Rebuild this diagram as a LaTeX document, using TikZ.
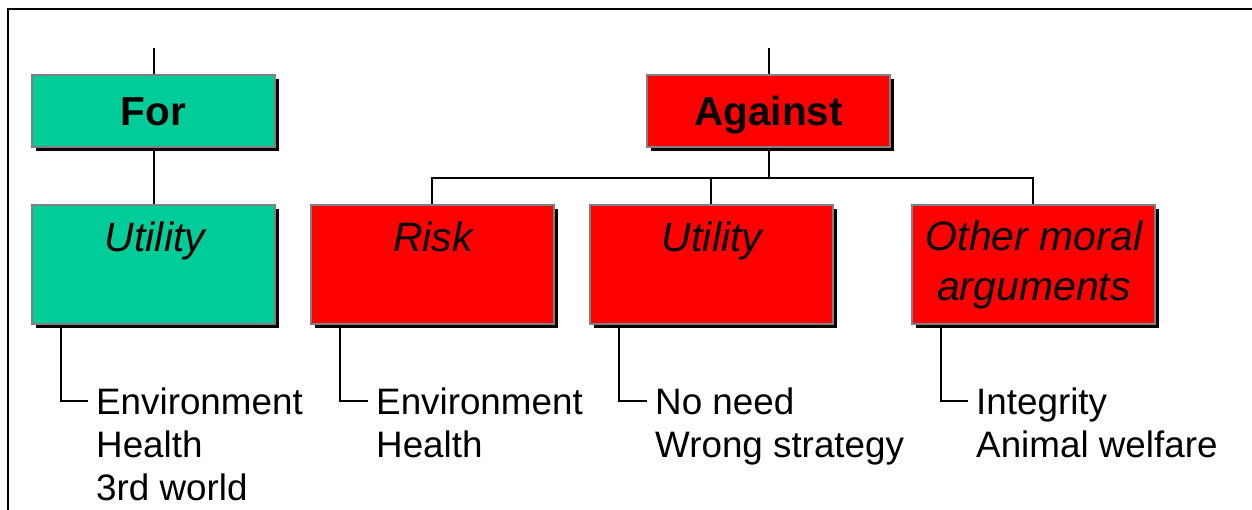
\documentclass[tikz,border=0pt]{standalone}
\usepackage{fontspec}
\setmainfont{Liberation Sans}
\usetikzlibrary{shadows,calc}
\definecolor{fgreen}{RGB}{0,204,153}
\definecolor{fred}{RGB}{255,0,0}
\definecolor{bgray}{RGB}{128,128,128}
\tikzset{
  box/.style={draw=bgray, line width=2pt, inner sep=0pt,
    drop shadow={shadow xshift=4pt, shadow yshift=-4pt, opacity=1, fill=black}},
  topbox/.style={box, minimum width=243pt, minimum height=72pt,
    text height=28pt, text depth=0pt,
    font=\fontsize{40.5}{45}\selectfont\bfseries},
  subbox/.style={box, minimum width=243pt, minimum height=119pt},
  boxlabel/.style={font=\fontsize{41}{50}\selectfont\itshape, align=center, inner sep=0pt},
  items/.style={font=\fontsize{36.8}{43}\selectfont, align=left, inner sep=0pt, anchor=base west},
  conn/.style={line width=2pt, black},
}
\begin{document}
\begin{tikzpicture}[x=1pt,y=-1pt]
\useasboundingbox (0,0) rectangle (1252,509);
\draw[line width=2pt] (8,515) |- (1260,9);

% top boxes
\node[topbox, fill=fgreen] (for) at (153.5,111) {For};
\node[topbox, fill=fred] (against) at (768.5,111) {Against};

% sub boxes
\node[subbox, fill=fgreen] (fu) at (153.5,264) {};
\node[subbox, fill=fred] (risk) at (432,264) {};
\node[subbox, fill=fred] (au) at (711,264) {};
\node[subbox, fill=fred] (oth) at (1033,264) {};

% box titles (anchor base = baseline of last line)
\node[boxlabel, anchor=base] (fut) at (155,251) {Utility};
\node[boxlabel, anchor=base] (rkt) at (433,251) {Risk};
\node[boxlabel, anchor=base] (aut) at (712,251) {Utility};
\node[boxlabel, anchor=base] (otht) at (1034,300) {Other moral\\arguments};

% connectors
\coordinate (fortop) at (153.5,48);
\coordinate (agtop) at (768.5,48);
\coordinate (bus) at (768.5,178);
\draw[conn] (fortop) -- (for.north);
\draw[conn] (agtop) -- (against.north);
\draw[conn] (for.south) -- (fu.north);
\draw[conn] (against.south) -- (bus);
\draw[conn] (risk.north) |- (bus);
\draw[conn] (oth.north) |- (bus);
\draw[conn] (au.north) -- (au.north |- bus);

% item lists (anchor base = baseline of last line)
\node[items] (fi) at (96,500) {Environment\\Health\\3rd world};
\node[items] (ri) at (376,457) {Environment\\Health};
\node[items] (ai) at (655,457) {No need\\Wrong strategy};
\node[items] (oi) at (976,457) {Integrity\\Animal welfare};

\coordinate (fb) at (88,401);
\coordinate (rb) at (368,401);
\coordinate (ab) at (647,401);
\coordinate (ob) at (968,401);
\draw[conn] ([xshift=30pt]fu.south west) |- (fb);
\draw[conn] ([xshift=30pt]risk.south west) |- (rb);
\draw[conn] ([xshift=30pt]au.south west) |- (ab);
\draw[conn] ([xshift=30pt]oth.south west) |- (ob);
\end{tikzpicture}
\end{document}
